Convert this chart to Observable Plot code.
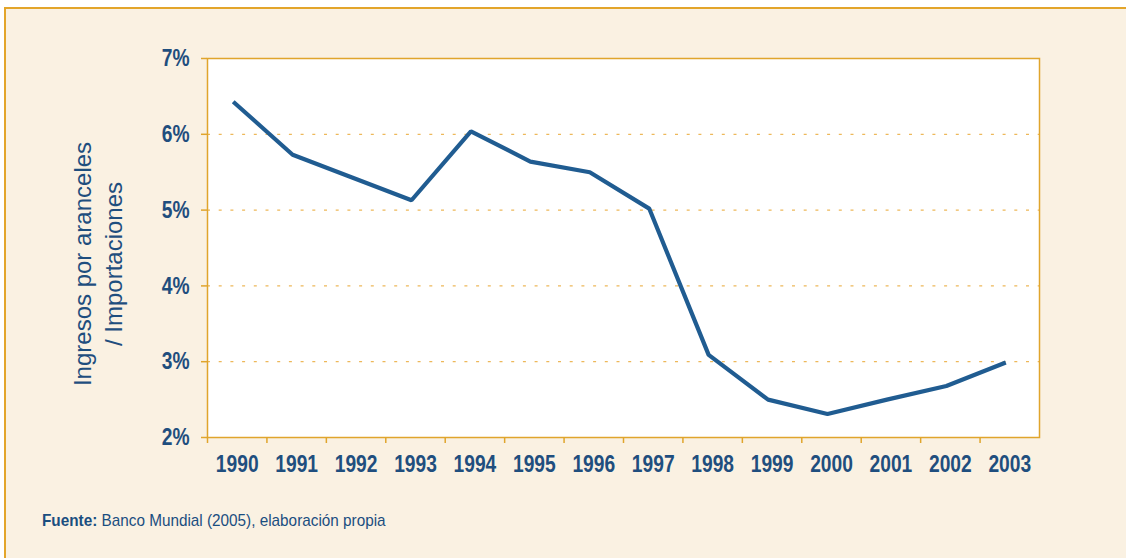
<!DOCTYPE html>
<html>
<head>
<meta charset="utf-8">
<script src="https://cdn.jsdelivr.net/npm/d3@7"></script>
<script src="https://cdn.jsdelivr.net/npm/@observablehq/plot@0.6"></script>
<style>
  html, body { margin: 0; padding: 0; background: #ffffff; width: 1126px; height: 558px; overflow: hidden; }
  #box { position: absolute; left: 4px; top: 7px; width: 1140px; height: 560px;
         background: #FAF1E2; border-top: 2px solid #E3A52A; border-left: 2px solid #E3A52A; }
  #chart { position: absolute; left: 0; top: 0; }
  #caption { position: absolute; left: 42px; top: 511px; font-family: "Liberation Sans", Arial, sans-serif;
             font-size: 17px; color: #1A4E80; transform: scaleX(0.9); transform-origin: left center; white-space: nowrap; }
  #caption b { font-weight: bold; }
</style>
</head>
<body>
<div id="box"></div>
<div id="chart"></div>
<div id="caption"><b>Fuente:</b> Banco Mundial (2005), elaboración propia</div>
<script>
const years = ["1990","1991","1992","1993","1994","1995","1996","1997","1998","1999","2000","2001","2002","2003"];
const ratio = [0.0643, 0.0573, 0.0543, 0.0513, 0.0604, 0.0564, 0.0550, 0.0502, 0.0309, 0.0250, 0.0231, 0.0250, 0.0268, 0.0299];
const yTicks = [0.02, 0.03, 0.04, 0.05, 0.06, 0.07];
const gridTicks = [0.03, 0.04, 0.05, 0.06];
const yLabel = "Ingresos por aranceles\n/ Importaciones";

const data = years.map((y, i) => ({year: y, value: ratio[i]}));

const W = 1126, H = 490;
const mL = 207, mR = 87, mT = 58, mB = 53;
const bw = (W - mL - mR) / years.length;
const gold = "#E0A52C";
const blue = "#1F4E7E";
const font = "'Liberation Sans', Arial, sans-serif";

const chart = Plot.plot({
  width: W, height: H,
  marginLeft: mL, marginRight: mR, marginTop: mT, marginBottom: mB,
  style: {background: "transparent", fontFamily: font, overflow: "visible"},
  x: {type: "band", domain: years, padding: 0, round: false, axis: null},
  y: {domain: [0.02, 0.07], axis: null},
  marks: [
    Plot.frame({fill: "white"}),
    Plot.ruleY(gridTicks, {stroke: "#EDB85A", strokeWidth: 1.2, strokeDasharray: "3,8.7"}),
    Plot.line(data, {x: "year", y: "value", stroke: "#205C91", strokeWidth: 4.2, dx: -4, strokeLinejoin: "miter", strokeLinecap: "butt"}),
    Plot.frame({stroke: gold, strokeWidth: 1.5}),
    Plot.axisY({ticks: yTicks, tickSize: 6, tickPadding: 12, stroke: gold, strokeWidth: 1.5, strokeOpacity: 1,
                tickFormat: d3.format(".0%"), fontSize: 24, fontWeight: "bold", fill: blue, label: null}),
    Plot.axisX({tickSize: 6, dx: -bw / 2, stroke: gold, strokeWidth: 1.5, strokeOpacity: 1, tickFormat: () => "", label: null}),
    Plot.axisX({tickSize: 0, tickPadding: 17, fontSize: 24, fontWeight: "bold", fill: blue, label: null}),
    Plot.text([yLabel], {frameAnchor: "left", textAnchor: "middle", dx: -111, dy: 16, rotate: -90, fontSize: 24, lineHeight: 1.3,
                         fill: blue, text: d => d})
  ]
});
// condense the tick labels (narrow typeface look)
d3.select(chart).selectAll("g[aria-label$='tick label'] text").each(function() {
  const t = this.getAttribute("transform") || "";
  this.setAttribute("transform", t + " scale(0.8,1)");
});
document.getElementById("chart").appendChild(chart);
</script>
</body>
</html>
